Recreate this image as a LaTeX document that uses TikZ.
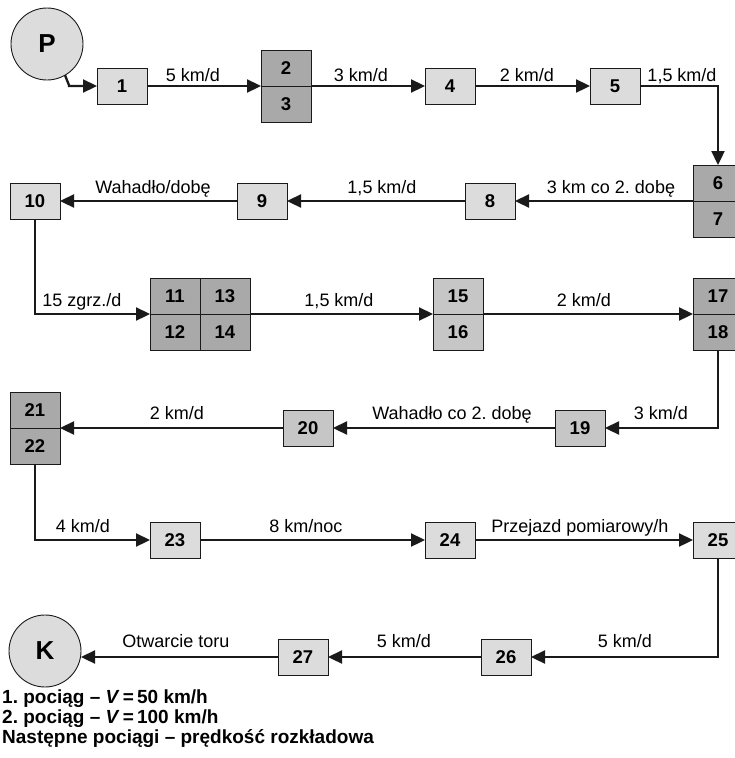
\documentclass[tikz,border=0pt]{standalone}
\usepackage{fontspec}
\setmainfont{Liberation Sans}
\usetikzlibrary{arrows.meta}
\definecolor{jasny}{HTML}{DCDCDC}
\definecolor{sredni}{HTML}{C6C6C6}
\definecolor{ciemny}{HTML}{A9A9A9}
\definecolor{kreska}{HTML}{1A1A1A}
\frenchspacing
\begin{document}
\begin{tikzpicture}[x=1pt,y=-1pt,declare function={wa=86;wb=201;wc=314;wd=428;we=540;wf=657;},
	>={Triangle[length=14pt,width=13pt]}]
	\tikzset{hop/.style={draw=kreska,line width=0.9pt,fill=jasny,minimum width=50pt,minimum height=36pt,inner sep=0pt,outer sep=0pt,font=\fontsize{18.5}{20}\selectfont\bfseries},
		hop2/.style={hop,fill=sredni},
		hop3/.style={hop,fill=ciemny},
		kolo/.style={circle,draw=kreska,line width=0.9pt,fill=jasny,minimum size=72pt,inner sep=0pt,outer sep=0pt,font=\fontsize{26}{28}\selectfont\bfseries},
		nhan/.style={inner sep=0pt,anchor=base,font=\fontsize{18}{20}\selectfont},
		chu/.style={inner sep=0pt,anchor=base west,font=\fontsize{19}{20}\selectfont\bfseries},
		tor/.style={->,draw=kreska,line width=2.3pt}}
	\useasboundingbox (0,0) rectangle (734,758);
	
	% Start i koniec
	\path (47,44) node[kolo] (P) {P}
	(45,{wf-6}) node[kolo] (K) {K}
	
	% Rząd 1
	(122,{wa}) node[hop] (n1) {1}
	(286,{wa-18}) node[hop3] (n2) {2}
	(286,{wa+18}) node[hop3] (n3) {3}
	(450,{wa}) node[hop] (n4) {4}
	(615,{wa}) node[hop] (n5) {5}
	
	% Rząd 2
	(718,{wb-18}) node[hop3] (n6) {6}
	(718,{wb+18}) node[hop3] (n7) {7}
	(490,{wb}) node[hop] (n8) {8}
	(262,{wb}) node[hop] (n9) {9}
	(35,{wb}) node[hop] (n10) {10}
	
	% Rząd 3
	(175,{wc-18}) node[hop3] (n11) {11}
	(175,{wc+18}) node[hop3] (n12) {12}
	(225,{wc-18}) node[hop3] (n13) {13}
	(225,{wc+18}) node[hop3] (n14) {14}
	(458,{wc-18}) node[hop2] (n15) {15}
	(458,{wc+18}) node[hop2] (n16) {16}
	(718,{wc-18}) node[hop3] (n17) {17}
	(718,{wc+18}) node[hop3] (n18) {18}
	
	% Rząd 4
	(580,{wd}) node[hop2] (n19) {19}
	(308,{wd}) node[hop2] (n20) {20}
	(35,{wd-18}) node[hop3] (n21) {21}
	(35,{wd+18}) node[hop3] (n22) {22}
	
	% Rząd 5 i 6
	(175,{we}) node[hop] (n23) {23}
	(450,{we}) node[hop] (n24) {24}
	(718,{we}) node[hop] (n25) {25}
	(506,{wf}) node[hop] (n26) {26}
	(303,{wf}) node[hop] (n27) {27};
	
	% Połączenia
	\draw[tor] (P.-60) -- +(4,10) |- (n1.west);
	\draw[tor] (n1.east) -- (n2.south west);
	\draw[tor] (n2.south east) -- (n4.west);
	\draw[tor] (n4.east) -- (n5.west);
	\draw[tor] (n5.east) -| (n6.north);
	\draw[tor] (n6.south west) -- (n8.east);
	\draw[tor] (n8.west) -- (n9.east);
	\draw[tor] (n9.west) -- (n10.east);
	\draw[tor] (n10.south) |- (n11.south west);
	\draw[tor] (n13.south east) -- (n15.south west);
	\draw[tor] (n15.south east) -- (n17.south west);
	\draw[tor] (n18.south) |- (n19.east);
	\draw[tor] (n19.west) -- (n20.east);
	\draw[tor] (n20.west) -- (n21.south east);
	\draw[tor] (n22.south) |- (n23.west);
	\draw[tor] (n23.east) -- (n24.west);
	\draw[tor] (n24.east) -- (n25.west);
	\draw[tor] (n25.south) |- (n26.east);
	\draw[tor] (n26.west) -- (n27.east);
	\draw[tor] (n27.west) -- (K.east |- n27.west);
	
	% Opisy nad torem
	\path (193,{wa-5}) node[nhan] (l1) {5 km/d}
	(361,{wa-5}) node[nhan] (l2) {3 km/d}
	(527,{wa-5}) node[nhan] (l3) {2 km/d}
	(682,{wa-5}) node[nhan] (l4) {1,5 km/d}
	(611,{wb-8}) node[nhan] (l5) {3 km co 2. dobę}
	(382,{wb-8}) node[nhan] (l6) {1,5 km/d}
	(153,{wb-8}) node[nhan] (l7) {Wahadło/dobę}
	(82,{wc-8}) node[nhan] (l8) {15 zgrz./d}
	(339,{wc-8}) node[nhan] (l9) {1,5 km/d}
	(584,{wc-8}) node[nhan] (l10) {2 km/d}
	(661,{wd-9}) node[nhan] (l11) {3 km/d}
	(452,{wd-9}) node[nhan] (l12) {Wahadło co 2. dobę}
	(177,{wd-9}) node[nhan] (l13) {2 km/d}
	(83,{we-8}) node[nhan] (l14) {4 km/d}
	(306,{we-8}) node[nhan] (l15) {8 km/noc}
	(580,{we-8}) node[nhan] (l16) {Przejazd pomiarowy/h}
	(625,{wf-10}) node[nhan] (l17) {5 km/d}
	(404,{wf-10}) node[nhan] (l18) {5 km/d}
	(176,{wf-10}) node[nhan] (l19) {Otwarcie toru};
	
	% Legenda
	\path (2,703) node[chu] (g1) {1. pociąg – \textit{V}\,=\,50 km/h}
	(2,723) node[chu] (g2) {2. pociąg – \textit{V}\,=\,100 km/h}
	(2,743) node[chu] (g3) {Następne pociągi – prędkość rozkładowa};
\end{tikzpicture}
\end{document}
